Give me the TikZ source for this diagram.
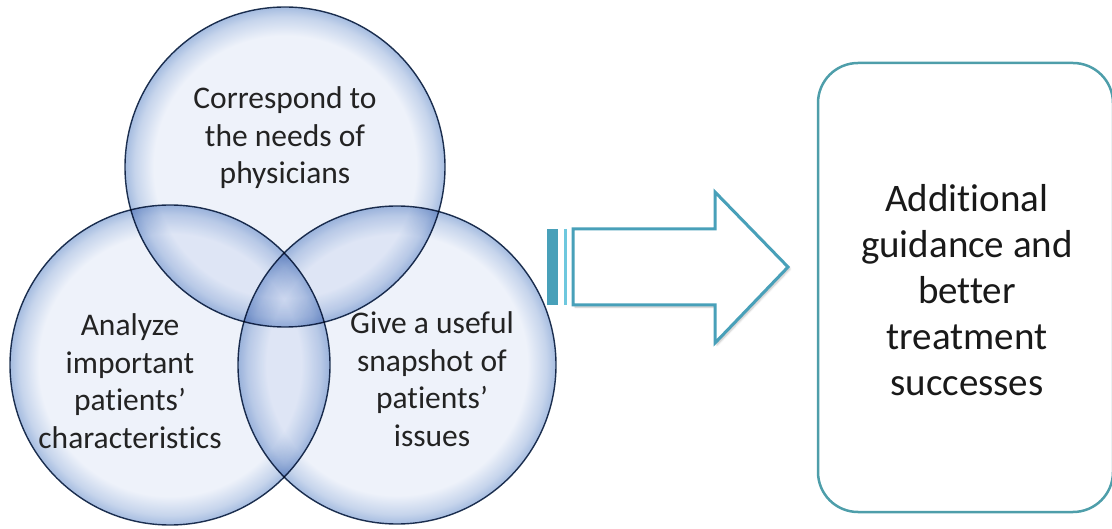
\documentclass[tikz,border=0pt]{standalone}
\usepackage{fontspec}
\setmainfont{Carlito}[Ligatures={NoCommon}]
\usetikzlibrary{shadows.blur}
\definecolor{rimin}{RGB}{238,242,250}
\definecolor{rimout}{RGB}{165,188,224}
\definecolor{navy}{RGB}{35,55,85}
\definecolor{aqua}{RGB}{72,160,185}
\definecolor{aqualt}{RGB}{110,200,222}
\definecolor{boxline}{RGB}{78,158,170}
\definecolor{txt}{RGB}{35,35,35}
\pgfdeclareradialshading{rim}{\pgfpoint{0bp}{0bp}}{%
  color(0bp)=(rimin); color(20.5bp)=(rimin); color(23.5bp)=(rimout!55!rimin); color(25bp)=(rimout); color(50bp)=(rimout)}
\tikzset{
  venn/.style={circle, inner sep=0pt, minimum size=#1, shading=rim, draw=navy, line width=1.4pt},
  venntext/.style={align=center, text=txt, font=\fontsize{31.5}{37.5}\selectfont},
  boxtext/.style={align=center, text=black!90, font=\fontsize{39}{46}\selectfont},
}
\begin{document}
\begin{tikzpicture}[x=1pt,y=-1pt]
\useasboundingbox (0,0) rectangle (1112,529);
\clip (0,0) rectangle (1112,529);
\begin{scope}[blend mode=multiply]
\node[venn=320pt] (top) at (285,167) {};
\node[venn=320pt] (left) at (170,365) {};
\node[venn=318pt] (right) at (397,365) {};
\end{scope}
\node[venntext] (ttop) at (285,138) {Correspond to\\the needs of\\physicians};
\node[venntext] (tleft) at (130,381) {Analyze\\important\\patients’\\characteristics};
\node[venntext] (tright) at (432,379) {Give a useful\\snapshot of\\patients’\\issues};
% arrow
\coordinate (a1) at (573,229);
\coordinate (a2) at (715,229);
\coordinate (a3) at (715,192);
\coordinate (tip) at (788,267);
\coordinate (a5) at (715,343);
\coordinate (a6) at (715,305);
\coordinate (a7) at (573,305);
\draw[aqua, line width=3pt, fill=white, line join=miter,
  blur shadow={shadow xshift=2pt, shadow yshift=-2pt, shadow blur steps=6, shadow opacity=25}]
  (a1) -- (a2) -- (a3) -- (tip) -- (a5) -- (a6) -- (a7) -- cycle;
\fill[aqua] (547,229) rectangle (558,305);
\draw[aqualt, line width=3pt] (565,229) -- (565,305);
% box
\node[draw=boxline, line width=2.5pt, rounded corners=40pt, minimum width=295pt, minimum height=449pt, inner sep=0pt] (box) at (965.5,287.5) {};
\node[boxtext] (tbox) at (967,290) {Additional\\guidance and\\better\\treatment\\successes};
\end{tikzpicture}
\end{document}
